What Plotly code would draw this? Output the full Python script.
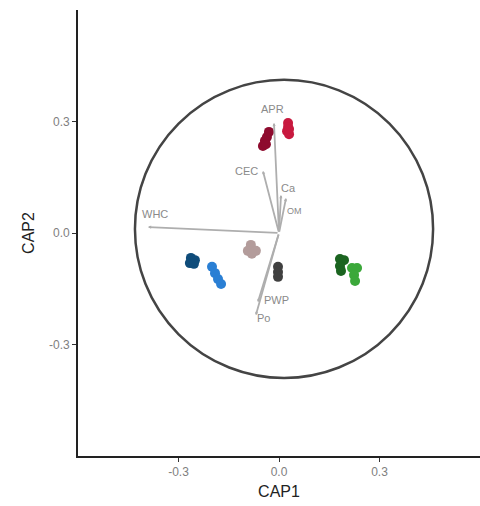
import plotly.graph_objects as go

# Site scores on the first two constrained axes, grouped by treatment
groups = ["G1", "G2", "G3", "G4", "G5", "G6", "G7", "G8"]
group_colors = ["#8E0B2E", "#C8193F", "#0F4C7A", "#2A7FD4",
                "#B39C9B", "#404040", "#1B6420", "#3BA83A"]
cap1_scores = [
    [-0.030, -0.036, -0.042, -0.048, -0.039],
    [0.027, 0.027, 0.024, 0.030, 0.030],
    [-0.263, -0.251, -0.266, -0.254],
    [-0.200, -0.191, -0.182, -0.173],
    [-0.084, -0.093, -0.069, -0.081],
    [-0.003, -0.003, -0.003],
    [0.182, 0.194, 0.182, 0.185],
    [0.218, 0.233, 0.224, 0.227],
]
cap2_scores = [
    [0.272, 0.258, 0.248, 0.234, 0.239],
    [0.296, 0.285, 0.274, 0.266, 0.280],
    [-0.067, -0.073, -0.081, -0.083],
    [-0.091, -0.108, -0.124, -0.137],
    [-0.032, -0.048, -0.048, -0.056],
    [-0.091, -0.105, -0.118],
    [-0.070, -0.073, -0.089, -0.102],
    [-0.094, -0.094, -0.113, -0.129],
]

# Environmental vectors (biplot arrows)
env_names = ["APR", "CEC", "Ca", "OM", "WHC", "PWP", "Po"]
env_cap1 = [-0.015, -0.048, 0.006, 0.021, -0.391, -0.063, -0.069]
env_cap2 = [0.296, 0.167, 0.102, 0.094, 0.016, -0.186, -0.221]
label_cap1 = [-0.018, -0.096, 0.027, 0.045, -0.370, -0.006, -0.045]
label_cap2 = [0.334, 0.167, 0.121, 0.059, 0.051, -0.180, -0.229]
label_sizes = [11, 11, 11, 9, 11, 11, 11]

# Reference circle (centre and radii on each axis)
circle_cx, circle_cy = 0.015, 0.011
circle_rx, circle_ry = 0.445, 0.401

fig = go.Figure()

for name, color, xs, ys in zip(groups, group_colors, cap1_scores, cap2_scores):
    fig.add_trace(go.Scatter(
        x=xs, y=ys, mode="markers", name=name,
        marker=dict(size=10, color=color, line=dict(width=0)),
        showlegend=False, hoverinfo="skip",
    ))

fig.add_shape(
    type="circle", xref="x", yref="y",
    x0=circle_cx - circle_rx, x1=circle_cx + circle_rx,
    y0=circle_cy - circle_ry, y1=circle_cy + circle_ry,
    line=dict(color="#444444", width=2.5), layer="below",
)

annotations = []
for name, ex, ey, lx, ly, fs in zip(env_names, env_cap1, env_cap2,
                                     label_cap1, label_cap2, label_sizes):
    annotations.append(dict(
        x=ex, y=ey, ax=0, ay=0, xref="x", yref="y", axref="x", ayref="y",
        text="", showarrow=True, arrowhead=2, arrowsize=0.35, arrowwidth=1.8,
        arrowcolor="#AEAEAE",
    ))
    annotations.append(dict(
        x=lx, y=ly, xref="x", yref="y", text=name, showarrow=False,
        font=dict(size=fs, color="#8A8A8A", family="Liberation Sans"),
        xanchor="center", yanchor="middle",
    ))

axis_common = dict(
    showgrid=False, zeroline=False, showline=True,
    linecolor="#222222", linewidth=1.8,
    ticks="outside", ticklen=4, tickwidth=1.2, tickcolor="#333333",
    tickfont=dict(size=12, color="#808080", family="Liberation Sans"),
    tickvals=[-0.3, 0.0, 0.3], ticktext=["-0.3", "0.0", "0.3"],
)

fig.update_layout(
    width=480, height=506,
    margin=dict(l=78, r=0, t=10, b=50),
    plot_bgcolor="white", paper_bgcolor="white",
    xaxis=dict(range=[-0.6, 0.6],
               title=dict(text="CAP1", standoff=8,
                          font=dict(size=16, color="#222222", family="Liberation Sans")),
               **axis_common),
    yaxis=dict(range=[-0.6, 0.6],
               title=dict(text="CAP2", standoff=10,
                          font=dict(size=16, color="#222222", family="Liberation Sans")),
               **axis_common),
    annotations=annotations,
)

fig.write_html("out.html")
